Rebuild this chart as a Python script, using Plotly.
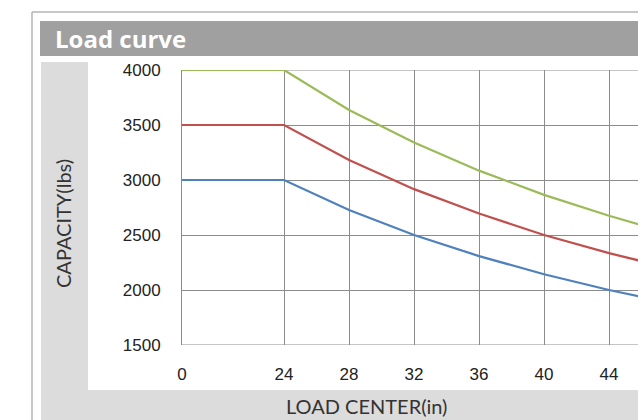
import plotly.graph_objects as go

# ---- data ----
load_center = [0, 24, 28, 32, 36, 40, 44, 48]
cap_4000 = [4000, 4000, 3636, 3340, 3085, 2865, 2675, 2505]
cap_3500 = [3500, 3500, 3182, 2917, 2695, 2500, 2335, 2190]
cap_3000 = [3000, 3000, 2727, 2500, 2308, 2143, 2000, 1875]
x_ticks = [0, 24, 28, 32, 36, 40, 44]
y_ticks = [1500, 2000, 2500, 3000, 3500, 4000]

series = [("4000", cap_4000, "#9bbb59"),
          ("3500", cap_3500, "#c0504d"),
          ("3000", cap_3000, "#4f81bd")]

# axis break: the 0..24 span is compressed on the axis
BREAK_START = 17.72


def axis_pos(v):
    if v >= 24:
        return v
    return 24 - (24 - v) * (24 - BREAK_START) / 24.0


W, H = 638, 420
L, T, R = 182, 70, 0
B = H - 345
PW, PH = W - L - R, H - T - B


def px(x):  # screen px -> paper
    return (x - L) / PW


def py(y):
    return (H - B - y) / PH


fig = go.Figure()
for name, vals, col in series:
    fig.add_trace(go.Scatter(
        x=[axis_pos(v) for v in load_center], y=vals, mode="lines",
        name=name, line=dict(color=col, width=2.2), showlegend=False,
        cliponaxis=True))

shapes = [
    # outer frame
    dict(type="line", xref="paper", yref="paper", x0=px(32), x1=px(645), y0=py(12), y1=py(12),
         line=dict(color="#b4b4b4", width=1.5), layer="below"),
    dict(type="line", xref="paper", yref="paper", x0=px(32), x1=px(32), y0=py(12), y1=py(430),
         line=dict(color="#b4b4b4", width=1.5), layer="below"),
    # header bar
    dict(type="rect", xref="paper", yref="paper", x0=px(40), x1=px(645), y0=py(21), y1=py(56),
         fillcolor="#a0a0a0", line=dict(width=0), layer="below"),
    # light gray panel
    dict(type="rect", xref="paper", yref="paper", x0=px(41), x1=px(645), y0=py(62), y1=py(430),
         fillcolor="#dcdcdc", line=dict(width=0), layer="below"),
    # white inner panel
    dict(type="rect", xref="paper", yref="paper", x0=px(88), x1=px(645), y0=py(62), y1=py(390),
         fillcolor="#ffffff", line=dict(width=0), layer="below"),
]

annotations = [
    dict(text="<b>Load curve</b>", xref="paper", yref="paper", x=px(53), y=py(39),
         xanchor="left", yanchor="middle", showarrow=False,
         font=dict(family="Open Sans, Lato, sans-serif", size=24, color="#ffffff")),
    dict(text="CAPACITY(lbs)", xref="paper", yref="paper", x=px(63), y=py(224),
         xanchor="center", yanchor="middle", showarrow=False, textangle=-90,
         font=dict(family="Lato, Open Sans, sans-serif", size=20, color="#333333")),
    dict(text="LOAD CENTER(in)", xref="paper", yref="paper", x=px(366), y=py(406),
         xanchor="center", yanchor="middle", showarrow=False,
         font=dict(family="Lato, Open Sans, sans-serif", size=20, color="#333333")),
]

grid = "#8c8c8c"
fig.update_layout(
    width=W, height=H,
    margin=dict(l=L, r=R, t=T, b=B),
    paper_bgcolor="#ffffff",
    plot_bgcolor="rgba(0,0,0,0)",
    shapes=shapes,
    annotations=annotations,
    xaxis=dict(
        range=[BREAK_START, BREAK_START + PW / 16.25],
        tickmode="array",
        tickvals=[axis_pos(v) for v in x_ticks],
        ticktext=[str(v) for v in x_ticks],
        showgrid=True, gridcolor=grid, gridwidth=1,
        zeroline=False, showline=False, ticks="",
        ticklabelstandoff=17,
        tickfont=dict(family="Liberation Sans, Arial, sans-serif", size=17, color="#222222"),
    ),
    yaxis=dict(
        range=[1500, 4000],
        tickmode="array", tickvals=y_ticks,
        ticktext=[str(v) for v in y_ticks],
        showgrid=True, gridcolor=grid, gridwidth=1,
        zeroline=False, showline=True, linecolor=grid, linewidth=1,
        mirror=False, ticks="",
        ticklabelstandoff=17,
        tickfont=dict(family="Liberation Sans, Arial, sans-serif", size=17, color="#222222"),
    ),
)
# gridlines at the bottom (1500) and top (4000)
fig.add_shape(type="line", xref="paper", yref="y", x0=0, x1=1, y0=1500, y1=1500,
              line=dict(color=grid, width=1), layer="below")
fig.add_shape(type="line", xref="paper", yref="y", x0=0, x1=1, y0=4000, y1=4000,
              line=dict(color=grid, width=1), layer="below")

fig.write_html(
    "out.html",
    config={"displayModeBar": False},
    post_script="document.body.style.margin='0px';document.body.style.overflow='hidden';",
)
